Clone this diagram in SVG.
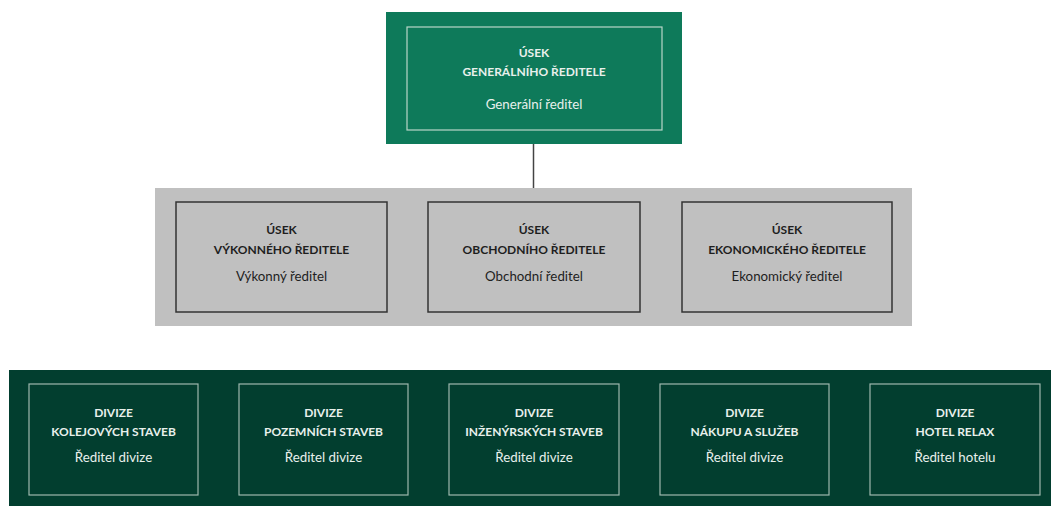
<svg xmlns="http://www.w3.org/2000/svg" width="1051" height="506" viewBox="0 0 1051 506">
  <style>
    text { font-family: Lato, "Open Sans", "Liberation Sans", sans-serif; text-anchor: middle; }
    .t { font-weight: bold; font-size: 12px; }
    .s { font-size: 13.3px; }
    .light text { fill: #e8f0ec; }
    .grey text { fill: #1e1e1e; }
    .gbox { fill: #c0c0c0; stroke: #333333; stroke-width: 1.5; }
    .dbox { fill: none; stroke: #9fb8ae; stroke-width: 1.2; }
    .ibox { fill: none; stroke: #b9d6c9; stroke-width: 1.2; }
  </style>

  <!-- band backgrounds -->
  <rect x="155" y="188" width="757" height="138" fill="#c0c0c0"/>
  <rect x="9" y="370" width="1042" height="136" fill="#023e2f"/>

  <!-- connectors -->
  <g id="connectors">
    <line x1="533.5" y1="144" x2="533.5" y2="188" stroke="#444444" stroke-width="1.5"/>
  </g>

  <g id="gen" class="light">
    <rect x="386" y="12" width="296" height="132" fill="#0e7a5a"/>
    <rect class="ibox" x="407" y="27" width="255" height="103"/>
    <text class="t" x="534" y="57">ÚSEK</text>
    <text class="t" x="534" y="76">GENERÁLNÍHO ŘEDITELE</text>
    <text class="s" x="534" y="109">Generální ředitel</text>
  </g>

  <g id="vyk" class="grey">
    <rect class="gbox" x="176" y="202" width="211" height="110"/>
    <text class="t" x="281.5" y="234">ÚSEK</text>
    <text class="t" x="281.5" y="254">VÝKONNÉHO ŘEDITELE</text>
    <text class="s" x="281.5" y="281">Výkonný ředitel</text>
  </g>

  <g id="obch" class="grey">
    <rect class="gbox" x="428" y="202" width="212" height="110"/>
    <text class="t" x="534" y="234">ÚSEK</text>
    <text class="t" x="534" y="254">OBCHODNÍHO ŘEDITELE</text>
    <text class="s" x="534" y="281">Obchodní ředitel</text>
  </g>

  <g id="eko" class="grey">
    <rect class="gbox" x="682" y="202" width="210" height="110"/>
    <text class="t" x="787" y="234">ÚSEK</text>
    <text class="t" x="787" y="254">EKONOMICKÉHO ŘEDITELE</text>
    <text class="s" x="787" y="281">Ekonomický ředitel</text>
  </g>

  <g id="div1" class="light">
    <rect class="dbox" x="29" y="384" width="169" height="111"/>
    <text class="t" x="113.5" y="417">DIVIZE</text>
    <text class="t" x="113.5" y="436">KOLEJOVÝCH STAVEB</text>
    <text class="s" x="113.5" y="462">Ředitel divize</text>
  </g>

  <g id="div2" class="light">
    <rect class="dbox" x="239" y="384" width="169" height="111"/>
    <text class="t" x="323.5" y="417">DIVIZE</text>
    <text class="t" x="323.5" y="436">POZEMNÍCH STAVEB</text>
    <text class="s" x="323.5" y="462">Ředitel divize</text>
  </g>

  <g id="div3" class="light">
    <rect class="dbox" x="449" y="384" width="170" height="111"/>
    <text class="t" x="534" y="417">DIVIZE</text>
    <text class="t" x="534" y="436">INŽENÝRSKÝCH STAVEB</text>
    <text class="s" x="534" y="462">Ředitel divize</text>
  </g>

  <g id="div4" class="light">
    <rect class="dbox" x="660" y="384" width="169" height="111"/>
    <text class="t" x="744.5" y="417">DIVIZE</text>
    <text class="t" x="744.5" y="436">NÁKUPU A SLUŽEB</text>
    <text class="s" x="744.5" y="462">Ředitel divize</text>
  </g>

  <g id="div5" class="light">
    <rect class="dbox" x="870" y="384" width="170" height="111"/>
    <text class="t" x="955" y="417">DIVIZE</text>
    <text class="t" x="955" y="436">HOTEL RELAX</text>
    <text class="s" x="955" y="462">Ředitel hotelu</text>
  </g>
</svg>
